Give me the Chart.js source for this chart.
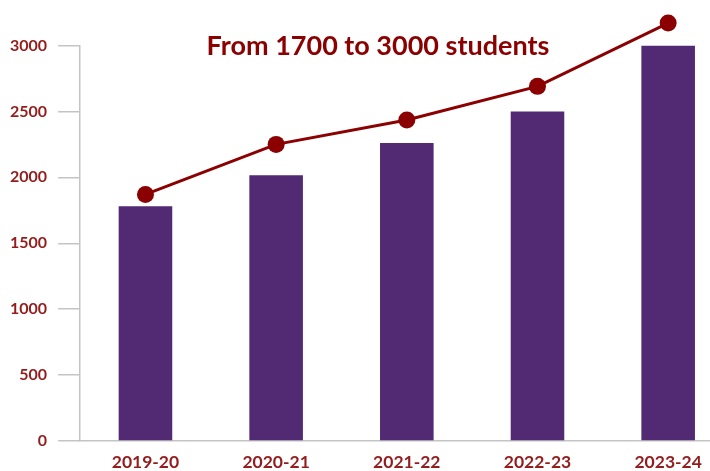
<!DOCTYPE html>
<html>
<head>
<meta charset="utf-8">
<script src="https://cdn.jsdelivr.net/npm/chart.js@4"></script>
<style>
  body { margin: 0; background: #fff; overflow: hidden; }
  #wrap { width: 742px; height: 471px; }
</style>
</head>
<body>
<div id="wrap"><canvas id="enrol"></canvas></div>
<script>
const years = ["2019-20", "2020-21", "2021-22", "2022-23", "2023-24"];
const students = [1780, 2015, 2260, 2500, 3000];
const trend = [1870, 2250, 2435, 2690, 3170];
const yTicks = [0, 500, 1000, 1500, 2000, 2500, 3000];

const red = "#8b0000";
const labelRed = "#931c1c";
const purple = "#522a73";
const axisGrey = "#c4c4c4";

// the headline sits inside the plot, so it is drawn by hand
const headline = {
  id: "headline",
  afterDraw(chart) {
    const c = chart.ctx;
    c.save();
    c.font = "bold 27px Lato";
    c.fillStyle = red;
    c.textAlign = "center";
    c.textBaseline = "middle";
    c.fillText("From 1700 to 3000 students", 378, 46);
    c.restore();
  }
};

// last point lies above the 3000 top, let points draw outside the area
const roomAbove = {
  id: "roomAbove",
  beforeDatasetsDraw(chart) {
    chart.chartArea.top -= 40;
  },
  afterDatasetsDraw(chart) {
    chart.chartArea.top += 40;
  }
};

new Chart(document.getElementById("enrol"), {
  data: {
    labels: years,
    datasets: [
      {
        type: "line",
        data: trend,
        borderColor: red,
        borderWidth: 3,
        backgroundColor: red,
        pointRadius: 8.5,
        pointHoverRadius: 8.5,
        pointBackgroundColor: red,
        pointBorderWidth: 0,
        tension: 0,
        clip: false,
        order: 0
      },
      {
        type: "bar",
        data: students,
        backgroundColor: purple,
        categoryPercentage: 1,
        barPercentage: 0.41,
        order: 1
      }
    ]
  },
  options: {
    responsive: true,
    maintainAspectRatio: false,
    animation: false,
    layout: { padding: { top: 45.5, left: -1, right: 0, bottom: 0 } },
    plugins: {
      legend: { display: false },
      tooltip: { enabled: false }
    },
    scales: {
      x: {
        offset: true,
        afterFit(axis) {
          axis.height = 30;
        },
        grid: { display: false, drawTicks: false },
        border: { display: true, color: axisGrey, width: 1.5 },
        ticks: {
          color: labelRed,
          padding: 11,
          font: { family: "Lato", size: 17.5, weight: "bold" }
        }
      },
      y: {
        min: 0,
        max: 3000,
        afterBuildTicks(axis) {
          axis.ticks = yTicks.map(v => ({ value: v }));
        },
        grid: {
          drawOnChartArea: false,
          drawTicks: true,
          tickLength: 22,
          color: axisGrey,
          lineWidth: 1.5
        },
        border: { display: true, color: axisGrey, width: 1.5 },
        ticks: {
          color: labelRed,
          padding: 11,
          callback: v => String(v),
          font: { family: "Lato", size: 16, weight: "bold" }
        }
      }
    }
  },
  plugins: [headline, roomAbove]
});
</script>
</body>
</html>
